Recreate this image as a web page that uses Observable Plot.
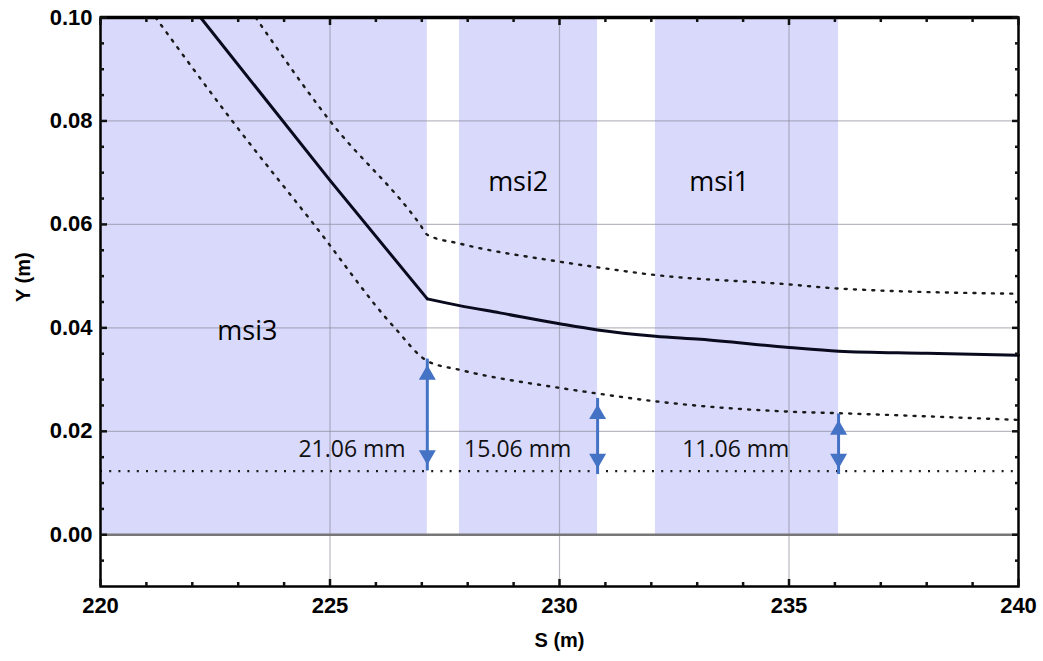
<!DOCTYPE html>
<html>
<head>
<meta charset="utf-8">
<script src="https://cdn.jsdelivr.net/npm/d3@7"></script>
<script src="https://cdn.jsdelivr.net/npm/@observablehq/plot@0.6"></script>
<style>
  html, body { margin: 0; padding: 0; background: #fff; }
  #chart { width: 1043px; height: 661px; }
</style>
</head>
<body>
<div id="chart"></div>
<script>
// Magnet regions (S in m)
const magnetNames = ["msi3", "msi2", "msi1"];
const magnetStart = [220.0, 227.82, 232.09];
const magnetEnd   = [227.12, 230.83, 236.08];
const magnetLabelS = [223.2, 229.1, 233.48];
const magnetLabelY = [0.0393, 0.0682, 0.0682];

// Solid (central) trajectory; kink at 227.12
const kinkS = 227.12;
const solidS = [222.18, 225.0, 227.12, 227.82, 228.7, 230.0, 230.83, 232.09, 233.07, 235.0, 236.08, 238.0, 240.0];
const solidY = [0.100, 0.0685, 0.0456, 0.0443, 0.0429, 0.0408, 0.0396, 0.0384, 0.0378, 0.0362, 0.0355, 0.0351, 0.0347];

// Upper dotted envelope
const upperS = [223.38, 225.0, 226.96, 227.12, 227.82, 230.0, 230.83, 232.0, 235.0, 236.08, 240.0];
const upperY = [0.100, 0.080, 0.060, 0.0580, 0.0563, 0.0528, 0.0517, 0.0503, 0.0484, 0.0476, 0.0466];

// Lower dotted envelope
const lowerS = [221.2, 222.87, 224.65, 226.41, 227.12, 227.82, 230.0, 230.83, 232.09, 235.0, 236.08, 240.0];
const lowerY = [0.100, 0.080, 0.060, 0.040, 0.0336, 0.0319, 0.0284, 0.0273, 0.0258, 0.0238, 0.0235, 0.0222];

// Horizontal dotted reference level
const baselineY = 0.0123;

// Clearance arrows
const arrowS      = [227.12, 230.83, 236.08];
const arrowTop    = [0.0328, 0.0252, 0.0222];
const arrowBottom = [0.0135, 0.0128, 0.0128];
const clearanceLabels = ["21.06 mm", "15.06 mm", "11.06 mm"];
const clearanceLabelS = [225.48, 229.09, 233.84];
const clearanceLabelY = 0.0165;

// Axis ticks
const xMajor = [220, 225, 230, 235, 240];
const xMinor = d3.range(221, 240, 1).filter(v => v % 5 !== 0);
const yMajor = [0.00, 0.02, 0.04, 0.06, 0.08, 0.10];
const yMinor = d3.range(-0.005, 0.1, 0.005).map(v => +v.toFixed(3)).filter(v => Math.abs(Math.round(v * 1000) % 20) !== 0);
const xGrid = [225, 230, 235];
const yGrid = [0.02, 0.04, 0.06, 0.08];

// Build tables
const magnets = magnetNames.map((n, i) => ({name: n, x1: magnetStart[i], x2: magnetEnd[i], lx: magnetLabelS[i], ly: magnetLabelY[i]}));
const solid = solidS.map((s, i) => ({s, y: solidY[i]}));
const upper = upperS.map((s, i) => ({s, y: upperY[i]}));
const lower = lowerS.map((s, i) => ({s, y: lowerY[i]}));
const arrows = arrowS.map((s, i) => ({s, top: arrowTop[i], bottom: arrowBottom[i]}));
const clearance = clearanceLabels.map((t, i) => ({t, s: clearanceLabelS[i], y: clearanceLabelY}));

const SHADE = "#d9d9fc";
const BLUE = "#4472c4";
const FONT = "'Liberation Sans', Arial, sans-serif";
const LABELFONT = "'Open Sans', 'Liberation Sans', sans-serif";
const DOTS = {stroke: "#1a1a1a", strokeWidth: 2.4, strokeDasharray: "2,7.2"};

const tickStyle = {stroke: "#111", strokeWidth: 2.5, tickFormat: () => ""};

const chart = Plot.plot({
  width: 1043,
  height: 661,
  marginLeft: 100,
  marginRight: 25,
  marginTop: 17,
  marginBottom: 75,
  style: {fontFamily: FONT, background: "#fff", overflow: "visible"},
  x: {domain: [220, 240]},
  y: {domain: [-0.01, 0.10]},
  marks: [
    Plot.rect(magnets, {x1: "x1", x2: "x2", y1: 0, y2: 0.10, fill: SHADE}),
    Plot.gridX(xGrid, {stroke: "#8a8a9a", strokeOpacity: 0.6, strokeWidth: 1.2}),
    Plot.gridY(yGrid, {stroke: "#8a8a9a", strokeOpacity: 0.6, strokeWidth: 1.2}),
    Plot.ruleY([0], {stroke: "#777", strokeWidth: 2.5}),
    Plot.ruleY([baselineY], DOTS),
    Plot.line(upper, {x: "s", y: "y", ...DOTS, curve: "monotone-x"}),
    Plot.line(lower, {x: "s", y: "y", ...DOTS, curve: "monotone-x"}),
    Plot.line(solid.filter(d => d.s <= kinkS), {x: "s", y: "y", stroke: "#0a0a1e", strokeWidth: 3, curve: "linear"}),
    Plot.line(solid.filter(d => d.s >= kinkS), {x: "s", y: "y", stroke: "#0a0a1e", strokeWidth: 3, curve: "monotone-x"}),
    Plot.ruleX(arrows, {x: "s", y1: "bottom", y2: "top", stroke: BLUE, strokeWidth: 3, insetTop: 6, insetBottom: 6}),
    Plot.dot(arrows, {x: "s", y: "top", symbol: "triangle", r: 6.3, fill: BLUE, stroke: "none", dy: 9.8}),
    Plot.dot(arrows, {x: "s", y: "bottom", symbol: "triangle", r: 6.3, fill: BLUE, stroke: "none", dy: -9.8, rotate: 180}),
    Plot.text(magnets, {x: "lx", y: "ly", text: "name", fontSize: 27, fontFamily: LABELFONT, fill: "#000"}),
    Plot.text(clearance, {x: "s", y: "y", text: "t", fontSize: 23, fontFamily: LABELFONT, fill: "#111"}),
    Plot.frame({stroke: "#000", strokeWidth: 2.5}),
    Plot.ruleY([0.10], {stroke: "#000", strokeWidth: 3.5}),
    // inward ticks, all four sides
    Plot.axisX(xMajor, {anchor: "bottom", tickSize: -7, ...tickStyle}),
    Plot.axisX(xMinor, {anchor: "bottom", tickSize: -4, ...tickStyle}),
    Plot.axisX(xMajor, {anchor: "top", tickSize: -7, ...tickStyle}),
    Plot.axisX(xMinor, {anchor: "top", tickSize: -4, ...tickStyle}),
    Plot.axisY(yMajor, {anchor: "left", tickSize: -7, ...tickStyle}),
    Plot.axisY(yMinor, {anchor: "left", tickSize: -4, ...tickStyle}),
    Plot.axisY(yMajor, {anchor: "right", tickSize: -7, ...tickStyle}),
    Plot.axisY(yMinor, {anchor: "right", tickSize: -4, ...tickStyle}),
    // tick labels
    Plot.axisX(xMajor, {anchor: "bottom", tickSize: 0, tickPadding: 11, fontSize: 22, fontWeight: "bold", fill: "#000", tickFormat: d => String(d), label: null}),
    Plot.axisY(yMajor, {anchor: "left", tickSize: 0, tickPadding: 8, fontSize: 22, fontWeight: "bold", fill: "#000", tickFormat: d => d.toFixed(2), label: null}),
    // axis titles
    Plot.text(["S (m)"], {frameAnchor: "bottom", dy: 54, lineAnchor: "middle", fontSize: 20, fontWeight: "bold", fill: "#000"}),
    Plot.text(["Y (m)"], {frameAnchor: "left", dx: -77, rotate: -90, lineAnchor: "middle", fontSize: 20, fontWeight: "bold", fill: "#000"})
  ]
});
document.getElementById("chart").appendChild(chart);
</script>
</body>
</html>
